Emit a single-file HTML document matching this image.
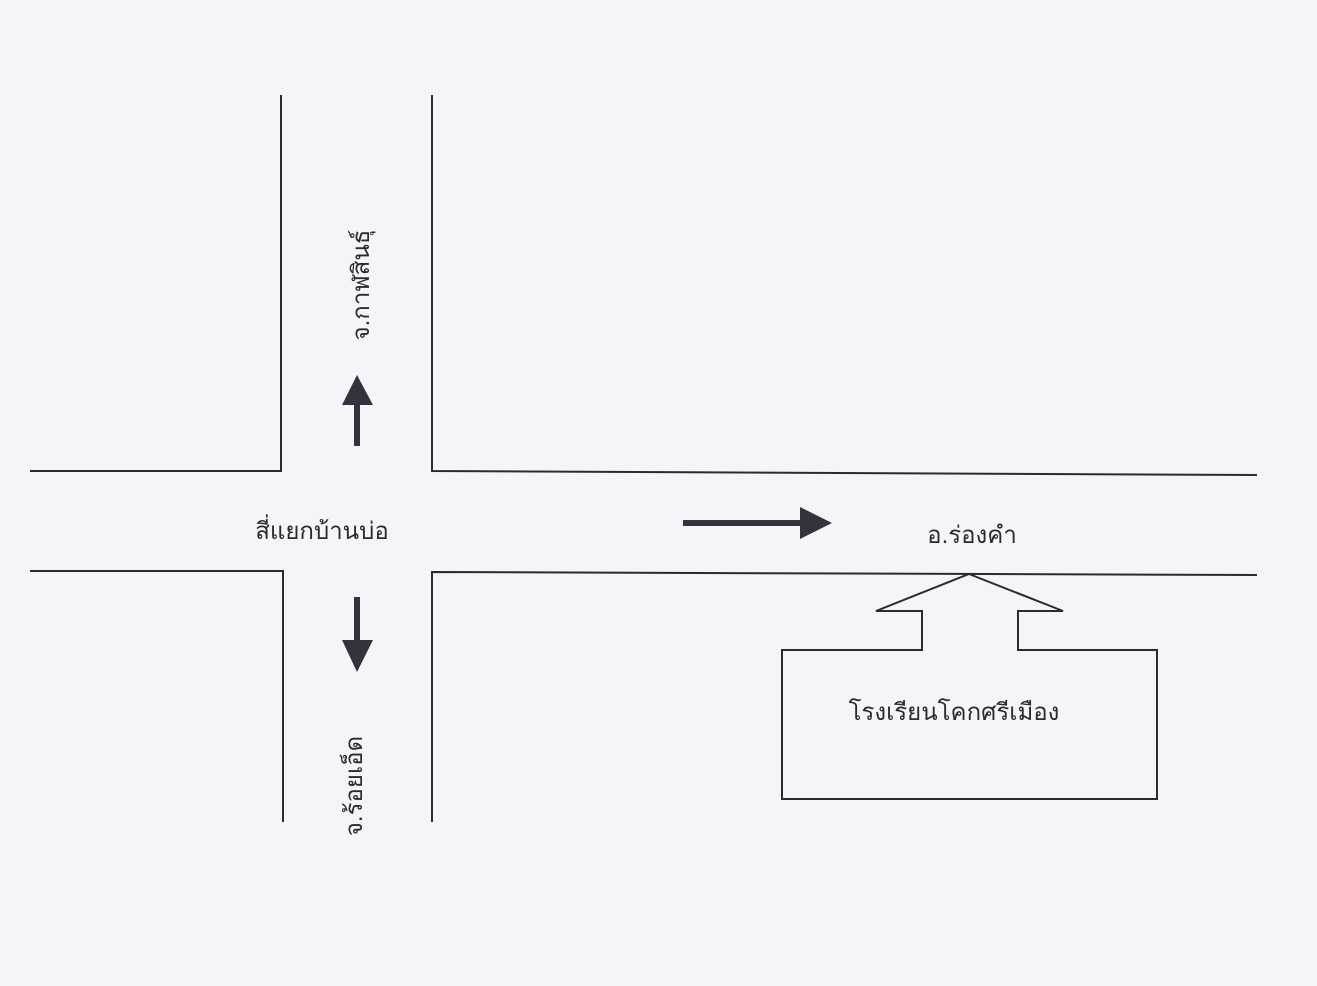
<!DOCTYPE html>
<html><head><meta charset="utf-8"><style>
html,body{margin:0;padding:0;background:#f5f5f9;}
svg{display:block}
text{font-family:"Liberation Sans","DejaVu Sans","Noto Sans CJK SC",sans-serif;fill:#2a2a33;font-size:24px}
</style></head><body>
<svg width="1317" height="986" viewBox="0 0 1317 986">
<rect width="1317" height="986" fill="#f5f5f9"/>
<g stroke="#2a2a33" stroke-width="2" fill="none">
<polyline points="281,95 281,471 30,471"/>
<polyline points="432,95 432,471 1257,475"/>
<polyline points="30,571 283,571 283,822"/>
<polyline points="432,822 432,572 1257,575"/>
<polygon points="969,574 1063,611 1018,611 1018,650 1157,650 1157,799 782,799 782,650 922,650 922,611 876,611"/>
</g>
<g fill="#33333d" stroke="none">
<rect x="354" y="403" width="6" height="43"/>
<polygon points="342,405 373,405 357,375"/>
<rect x="354" y="597" width="6" height="44"/>
<polygon points="342,640 373,640 357,672"/>
<rect x="683" y="520" width="118" height="6"/>
<polygon points="800,507 800,539 832,523"/>
</g>
<text x="322" y="539" text-anchor="middle" font-size="25">สี่แยกบ้านบ่อ</text>
<text x="972" y="543" text-anchor="middle">อ.ร่องคำ</text>
<text x="954" y="720" text-anchor="middle" font-size="25">โรงเรียนโคกศรีเมือง</text>
<text transform="translate(369,285) rotate(-90)" text-anchor="middle">จ.กาฬสินธุ์</text>
<text transform="translate(362,786) rotate(-90)" text-anchor="middle">จ.ร้อยเอ็ด</text>
</svg>
</body></html>
